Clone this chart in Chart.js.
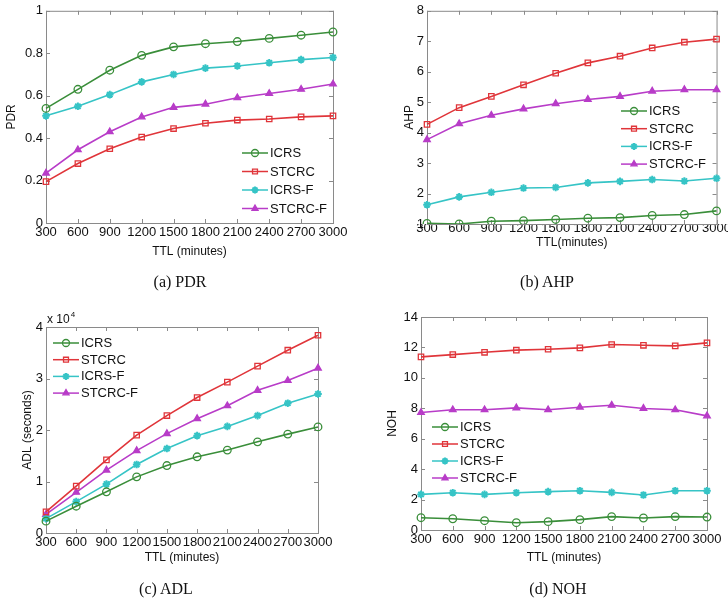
<!DOCTYPE html>
<html>
<head>
<meta charset="utf-8">
<script src="https://cdn.jsdelivr.net/npm/chart.js@4.4.1/dist/chart.umd.min.js"></script>
<style>
	body { margin: 0; background: #fff; width: 728px; height: 606px; position: relative; overflow: hidden; }
	canvas { position: absolute; }
	.cap { position: absolute; font-family: "Liberation Serif", serif; font-size: 16px; color: #111; transform: translateX(-50%); white-space: nowrap; }
</style>
</head>
<body>

<canvas id="pdr-chart" width="364" height="300" style="left:0;top:0"></canvas>
<canvas id="ahp-chart" width="364" height="300" style="left:364px;top:0"></canvas>
<canvas id="adl-chart" width="364" height="306" style="left:0;top:300px"></canvas>
<canvas id="noh-chart" width="364" height="306" style="left:364px;top:300px"></canvas>

<div class="cap" style="left:180px;top:273px">(a) PDR</div>
<div class="cap" style="left:547px;top:273px">(b) AHP</div>
<div class="cap" style="left:166px;top:580px">(c) ADL</div>
<div class="cap" style="left:558px;top:580px">(d) NOH</div>

<script>

	// TTL values on the x axis
	var ttl = [300, 600, 900, 1200, 1500, 1800, 2100, 2400, 2700, 3000];
	var seriesNames = ['ICRS', 'STCRC', 'ICRS-F', 'STCRC-F'];

	// (a) PDR
	var pdrIcrs   = [0.54, 0.63, 0.72, 0.79, 0.83, 0.845, 0.855, 0.87, 0.885, 0.90];
	var pdrStcrc  = [0.195, 0.28, 0.35, 0.405, 0.445, 0.47, 0.485, 0.49, 0.50, 0.505];
	var pdrIcrsF  = [0.505, 0.55, 0.605, 0.665, 0.70, 0.73, 0.74, 0.755, 0.77, 0.78];
	var pdrStcrcF = [0.235, 0.345, 0.43, 0.50, 0.545, 0.56, 0.59, 0.61, 0.63, 0.655];

	// (b) AHP
	var ahpIcrs   = [1.02, 1.0, 1.09, 1.11, 1.15, 1.19, 1.21, 1.28, 1.31, 1.43];
	var ahpStcrc  = [4.27, 4.82, 5.19, 5.57, 5.95, 6.29, 6.51, 6.78, 6.97, 7.07];
	var ahpIcrsF  = [1.63, 1.89, 2.04, 2.18, 2.2, 2.35, 2.4, 2.46, 2.41, 2.5];
	var ahpStcrcF = [3.77, 4.29, 4.57, 4.78, 4.95, 5.09, 5.19, 5.36, 5.41, 5.41];

	// (c) ADL, seconds
	var adlIcrs   = [2300, 5200, 8000, 10900, 13100, 14800, 16100, 17700, 19200, 20600];
	var adlStcrc  = [4100, 9100, 14200, 19000, 22800, 26300, 29300, 32400, 35500, 38400];
	var adlIcrsF  = [2800, 6100, 9500, 13300, 16400, 18900, 20700, 22800, 25200, 27000];
	var adlStcrcF = [3600, 7900, 12200, 16000, 19300, 22200, 24700, 27700, 29600, 32000];

	// (d) NOH
	var nohIcrs   = [0.81, 0.74, 0.61, 0.48, 0.55, 0.68, 0.88, 0.79, 0.88, 0.85];
	var nohStcrc  = [11.38, 11.53, 11.68, 11.82, 11.88, 11.97, 12.19, 12.14, 12.1, 12.3];
	var nohIcrsF  = [2.34, 2.45, 2.34, 2.45, 2.52, 2.58, 2.47, 2.3, 2.58, 2.58];
	var nohStcrcF = [7.72, 7.9, 7.9, 8.03, 7.9, 8.07, 8.2, 7.99, 7.9, 7.5];

	var colors = ['#3a8e3a', '#e0353a', '#36c4c6', '#b83cc8'];
	var markers = ['circle', 'rect', 'star', 'triangle'];
	var filled = [false, false, true, true];
	var fontName = '"Liberation Sans", Arial, sans-serif';

	// matlab style box with inward ticks, legend drawn inside the axes
	var matlabBox = {
		id: 'matlabBox',
		beforeDatasetsDraw: function (chart) {
			var ctx = chart.ctx, a = chart.chartArea;
			var xs = chart.scales.x, ys = chart.scales.y;
			ctx.save();
			ctx.strokeStyle = '#8a8a8a';
			ctx.lineWidth = 1;
			ctx.strokeRect(a.left + 0.5, a.top + 0.5, a.right - a.left, a.bottom - a.top);
			ctx.beginPath();
			xs.ticks.forEach(function (t, i) {
				var x = Math.round(xs.getPixelForTick(i)) + 0.5;
				ctx.moveTo(x, a.bottom); ctx.lineTo(x, a.bottom - 4);
				ctx.moveTo(x, a.top); ctx.lineTo(x, a.top + 4);
			});
			ys.ticks.forEach(function (t, i) {
				var y = Math.round(ys.getPixelForTick(i)) + 0.5;
				ctx.moveTo(a.left, y); ctx.lineTo(a.left + 4, y);
				ctx.moveTo(a.right, y); ctx.lineTo(a.right - 4, y);
			});
			ctx.stroke();
			ctx.restore();
		},
		afterDraw: function (chart, args, opts) {
			var ctx = chart.ctx;
			ctx.save();
			ctx.font = '13px ' + fontName;
			ctx.textBaseline = 'middle';
			chart.data.datasets.forEach(function (ds, i) {
				var y = opts.y + i * opts.gap;
				ctx.strokeStyle = ds.borderColor;
				ctx.lineWidth = 1.5;
				ctx.beginPath();
				ctx.moveTo(opts.x, y); ctx.lineTo(opts.x + 26, y);
				ctx.stroke();
				ctx.fillStyle = ds.pointBackgroundColor;
				ctx.lineWidth = ds.pointBorderWidth;
				Chart.helpers.drawPoint(ctx, {
					pointStyle: ds.pointStyle, radius: 3.5, borderWidth: ds.pointBorderWidth, rotation: 0
				}, opts.x + 13, y);
				ctx.fillStyle = '#111';
				ctx.fillText(ds.label, opts.x + 28, y + 0.5);
			});
			if (opts.exponent) {
				var a = chart.chartArea;
				ctx.font = '12px ' + fontName;
				ctx.textBaseline = 'alphabetic';
				ctx.fillText('x 10', a.left + 1, a.top - 4);
				var w = ctx.measureText('x 10').width;
				ctx.font = '8px ' + fontName;
				ctx.fillText('4', a.left + 2 + w, a.top - 10);
			}
			ctx.restore();
		}
	};

	function makeDatasets(values) {
		return values.map(function (v, i) {
			return {
				label: seriesNames[i],
				data: v,
				borderColor: colors[i],
				borderWidth: 1.6,
				pointStyle: markers[i],
				pointRadius: 3.8,
				pointBorderWidth: markers[i] == 'star' ? 2 : 1.3,
				pointBorderColor: colors[i],
				pointBackgroundColor: filled[i] ? colors[i] : 'transparent',
				tension: 0
			};
		});
	}

	function makeChart(id, values, o) {
		return new Chart(document.getElementById(id), {
			type: 'line',
			data: { labels: ttl, datasets: makeDatasets(values) },
			plugins: [matlabBox],
			options: {
				responsive: false,
				animation: false,
				layout: { padding: o.pad },
				plugins: {
					legend: { display: false },
					tooltip: { enabled: false },
					matlabBox: o.legend
				},
				scales: {
					x: {
						offset: false,
						grid: { display: false, drawTicks: false, tickLength: 0 },
						border: { display: false },
						ticks: { autoSkip: false, maxRotation: 0, padding: o.xPad, color: '#111', font: { family: fontName, size: 13 } },
						title: { display: true, text: o.xTitle, color: '#111', padding: 4, font: { family: fontName, size: 12 } },
						afterFit: function (s) { s.height = o.xHeight; }
					},
					y: {
						min: o.min, max: o.max,
						grid: { display: false, drawTicks: false, tickLength: 0 },
						border: { display: false },
						ticks: { stepSize: o.step, padding: 3, color: '#111', font: { family: fontName, size: 13 }, callback: o.fmt },
						title: { display: true, text: o.yTitle, color: '#111', padding: 4, font: { family: fontName, size: 12 } },
						afterFit: function (s) { s.width = o.yWidth; }
					}
				}
			}
		});
	}

	makeChart('pdr-chart', [pdrIcrs, pdrStcrc, pdrIcrsF, pdrStcrcF], {
		pad: { left: 0, top: 10, right: 31, bottom: 37 }, yWidth: 46, xHeight: 40, xPad: 2,
		min: 0, max: 1, step: 0.2, fmt: function (v) { return String(+v.toFixed(1)); },
		xTitle: 'TTL (minutes)', yTitle: 'PDR',
		legend: { x: 242, y: 153, gap: 18.5 }
	});

	makeChart('ahp-chart', [ahpIcrs, ahpStcrc, ahpIcrsF, ahpStcrcF], {
		pad: { left: 34, top: 10, right: 11, bottom: 46 }, yWidth: 29, xHeight: 30, xPad: -3,
		min: 1, max: 8, step: 1, fmt: function (v) { return String(v); },
		xTitle: 'TTL(minutes)', yTitle: 'AHP',
		legend: { x: 257, y: 111, gap: 17.7 }
	});

	makeChart('adl-chart', [adlIcrs, adlStcrc, adlIcrsF, adlStcrcF], {
		pad: { left: 16, top: 27, right: 46, bottom: 37 }, yWidth: 30, xHeight: 36, xPad: 2,
		min: 0, max: 40000, step: 10000, fmt: function (v) { return String(v / 10000); },
		xTitle: 'TTL (minutes)', yTitle: 'ADL (seconds)',
		legend: { x: 53, y: 43, gap: 16.7, exponent: true }
	});

	makeChart('noh-chart', [nohIcrs, nohStcrc, nohIcrsF, nohStcrcF], {
		pad: { left: 17, top: 17, right: 21, bottom: 37 }, yWidth: 40, xHeight: 39, xPad: 2,
		min: 0, max: 14, step: 2, fmt: function (v) { return String(v); },
		xTitle: 'TTL (minutes)', yTitle: 'NOH',
		legend: { x: 68, y: 127, gap: 17 }
	});

</script>
</body>
</html>
